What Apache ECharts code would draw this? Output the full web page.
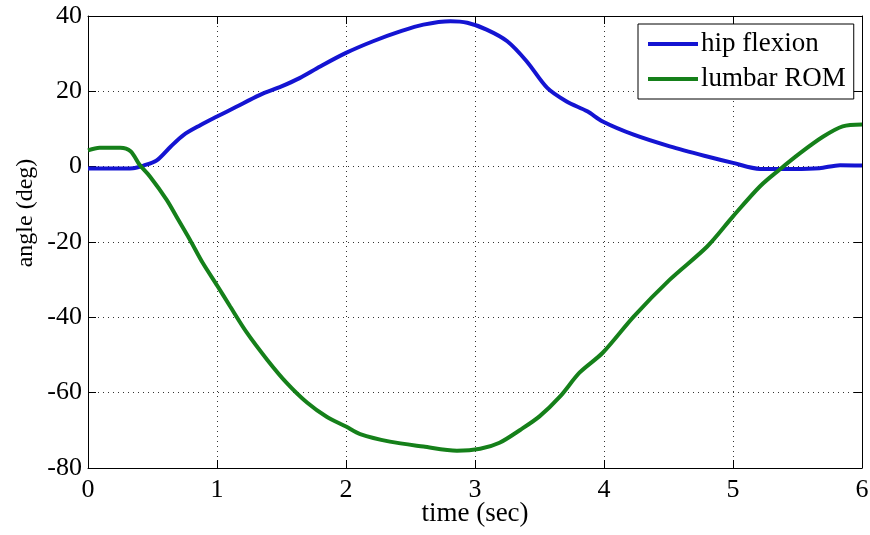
<!DOCTYPE html>
<html>
<head>
<meta charset="utf-8">
<script src="https://cdn.jsdelivr.net/npm/echarts@6/dist/echarts.min.js"></script>
<style>
  html, body { margin: 0; padding: 0; background: #fff; }
  #chart { width: 870px; height: 535px; }
</style>
</head>
<body>
<div id="chart"></div>
<script>
// Time samples (sec) and angles (deg) for each trace
const hipTime = [0, 0.2, 0.35, 0.43, 0.53, 0.64, 0.74, 0.87, 1.0, 1.15, 1.33, 1.5, 1.64, 1.8, 2.0, 2.21, 2.42, 2.6, 2.81, 2.94, 3.09, 3.25, 3.4, 3.56, 3.71, 3.87, 3.99, 4.23, 4.51, 4.8, 5.0, 5.21, 5.47, 5.67, 5.83, 6.0];
const hipAngle = [-0.5, -0.5, -0.4, 0.3, 1.6, 5.3, 8.4, 11, 13.3, 15.9, 19, 21.3, 23.5, 26.6, 30.2, 33.3, 35.9, 37.7, 38.6, 38.2, 36.4, 33.3, 28, 20.9, 17.3, 14.7, 12, 8.5, 5.4, 2.7, 1.0, -0.6, -0.6, -0.4, 0.4, 0.3];

const lumbarTime = [0, 0.09, 0.25, 0.33, 0.4, 0.48, 0.61, 0.7, 0.79, 0.89, 1.0, 1.1, 1.23, 1.39, 1.54, 1.7, 1.85, 2.0, 2.11, 2.34, 2.6, 2.86, 3.04, 3.19, 3.35, 3.5, 3.66, 3.81, 3.99, 4.23, 4.51, 4.8, 5.0, 5.21, 5.36, 5.52, 5.7, 5.85, 6.0];
const lumbarAngle = [4.3, 5.0, 5.0, 4.1, 0.5, -2.6, -8.8, -14.1, -19.4, -25.6, -31.5, -37, -44, -51.3, -57.4, -62.7, -66.4, -69, -71, -73, -74.3, -75.4, -74.9, -73.3, -69.9, -66.3, -61, -54.7, -49.4, -39.8, -30, -21.2, -13.2, -5.2, -0.8, 3.6, 8.0, 10.7, 11.2];

const seriesNames = ['hip flexion', 'lumbar ROM'];
const xTicks = { min: 0, max: 6, step: 1 };
const yTicks = { min: -80, max: 40, step: 20 };

const FONT = '"Liberation Serif", "Times New Roman", serif';
const pairs = (xs, ys) => xs.map((x, i) => [x, ys[i]]);

const chart = echarts.init(document.getElementById('chart'), null, { renderer: 'canvas' });

// Plain frame axes for the top and right edges (inward ticks, no labels)
const frameAxis = (extra) => Object.assign({
  type: 'value',
  axisLine: { show: true, onZero: false, lineStyle: { color: '#000', width: 1 } },
  axisTick: { show: true, inside: true, length: 8, lineStyle: { color: '#000' } },
  axisLabel: { show: false },
  splitLine: { show: false }
}, extra);

const gridDots = { show: true, lineStyle: { color: '#333', width: 1, type: [1, 4] } };

chart.setOption({
  animation: false,
  backgroundColor: '#fff',
  grid: { left: 88, right: 8, top: 16, bottom: 67, outerBoundsMode: 'none' },
  legend: {
    data: seriesNames,
    orient: 'vertical',
    left: 638,
    top: 24,
    padding: [6, 8, 6, 10],
    icon: 'rect',
    itemWidth: 50,
    itemHeight: 4,
    itemGap: 7,
    backgroundColor: '#fff',
    borderColor: '#000',
    borderWidth: 1,
    borderRadius: 0,
    textStyle: { fontFamily: FONT, fontSize: 27, lineHeight: 28, color: '#000', padding: [0, 0, 0, -2] }
  },
  xAxis: [
    {
      type: 'value', min: xTicks.min, max: xTicks.max, interval: xTicks.step,
      position: 'bottom',
      name: 'time (sec)', nameLocation: 'middle', nameGap: 32, nameMoveOverlap: false,
      nameTextStyle: { fontFamily: FONT, fontSize: 27, color: '#000' },
      axisLine: { show: true, onZero: false, lineStyle: { color: '#000', width: 1 } },
      axisTick: { show: true, inside: true, length: 8, lineStyle: { color: '#000' } },
      axisLabel: { fontFamily: FONT, fontSize: 26, color: '#000', margin: 9 },
      splitLine: gridDots
    },
    frameAxis({ min: xTicks.min, max: xTicks.max, interval: xTicks.step, position: 'top' })
  ],
  yAxis: [
    {
      type: 'value', min: yTicks.min, max: yTicks.max, interval: yTicks.step,
      position: 'left',
      name: 'angle (deg)', nameLocation: 'middle', nameGap: 50, nameMoveOverlap: false,
      nameTextStyle: { fontFamily: FONT, fontSize: 24, color: '#000', padding: [0, 0, 0, 58] },
      axisLine: { show: true, onZero: false, lineStyle: { color: '#000', width: 1 } },
      axisTick: { show: true, inside: true, length: 8, lineStyle: { color: '#000' } },
      axisLabel: { fontFamily: FONT, fontSize: 26, color: '#000', margin: 6 },
      splitLine: gridDots
    },
    frameAxis({ min: yTicks.min, max: yTicks.max, interval: yTicks.step, position: 'right' })
  ],
  series: [
    {
      name: seriesNames[0], type: 'line', symbol: 'none', smooth: 0.3,
      data: pairs(hipTime, hipAngle),
      itemStyle: { color: '#1414d2' },
      lineStyle: { color: '#1414d2', width: 4 }
    },
    {
      name: seriesNames[1], type: 'line', symbol: 'none', smooth: 0.3,
      data: pairs(lumbarTime, lumbarAngle),
      itemStyle: { color: '#15801a' },
      lineStyle: { color: '#15801a', width: 4 }
    }
  ]
});
</script>
</body>
</html>
